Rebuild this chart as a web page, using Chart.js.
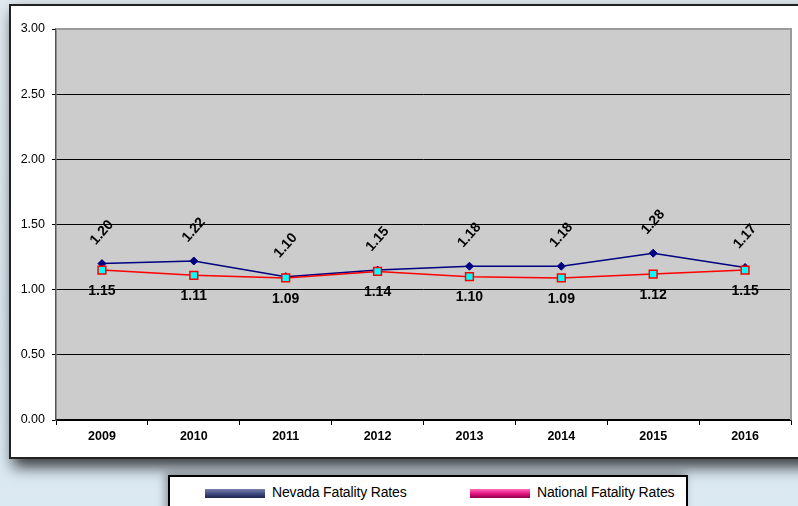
<!DOCTYPE html>
<html>
<head>
<meta charset="utf-8">
<script src="https://cdn.jsdelivr.net/npm/chart.js@4.4.1/dist/chart.umd.min.js"></script>
<style>
  html, body { margin: 0; padding: 0; }
  body {
    width: 798px; height: 506px; overflow: hidden; position: relative;
    background: linear-gradient(to bottom, #dfe9ef 0%, #d9e6ee 60%, #dbe9f3 100%);
    font-family: "Liberation Sans", Arial, sans-serif;
  }
  #panel {
    position: absolute; left: 9px; top: 4px; width: 800px; height: 451px;
    background: #fff; border: 2px solid #222;
    box-shadow: 4px 8px 14px rgba(0,0,0,0.75);
  }
  #chart { position: absolute; left: 0; top: 0; }
  #legend {
    position: absolute; left: 168px; top: 475px; width: 516px; height: 40px;
    background: #fff; border: 2px solid #000;
    box-shadow: -3px -2px 8px rgba(0,0,0,0.35);
    font-size: 14px; letter-spacing: -0.15px; color: #000;
  }
  .item { position: absolute; top: 7px; height: 16px; line-height: 16px; white-space: nowrap; }
  .sw { display: inline-block; width: 60px; height: 9px; vertical-align: -1px; margin-right: 7px; }
</style>
</head>
<body>
<div id="panel"></div>
<canvas id="chart" width="798" height="460"></canvas>
<div id="legend">
  <div class="item" style="left:35px"><span class="sw" style="background:linear-gradient(#7880b0,#3a4478 60%,#1e2450)"></span>Nevada Fatality Rates</div>
  <div class="item" style="left:300px"><span class="sw" style="background:linear-gradient(#ff6cb8,#e0107e 55%,#90004c)"></span>National Fatality Rates</div>
</div>
<script>
const years = ['2009', '2010', '2011', '2012', '2013', '2014', '2015', '2016'];
const nevadaRates = [1.20, 1.22, 1.10, 1.15, 1.18, 1.18, 1.28, 1.17];
const nationalRates = [1.15, 1.11, 1.09, 1.14, 1.10, 1.09, 1.12, 1.15];
const yTicks = [0, 0.5, 1, 1.5, 2, 2.5, 3];

// gray plot background + top/right border
const plotBg = {
    id: 'plotBg',
    beforeDraw(chart) {
        const a = chart.chartArea, c = chart.ctx;
        c.save();
        c.fillStyle = '#cbcccb';
        c.fillRect(a.left, a.top, a.right - a.left, a.bottom - a.top);
        c.restore();
    },
    afterDraw(chart) {
        const a = chart.chartArea, c = chart.ctx;
        c.save();
        c.strokeStyle = '#9a9a9a';
        c.lineWidth = 2;
        c.beginPath();
        c.moveTo(a.left, a.top);
        c.lineTo(a.right, a.top);
        c.lineTo(a.right, a.bottom);
        c.stroke();
        c.restore();
    }
};

// value labels
const valueLabels = {
    id: 'valueLabels',
    afterDatasetsDraw(chart) {
        const c = chart.ctx;
        c.save();
        c.fillStyle = '#000';
        c.font = 'bold 14px "Liberation Sans", Arial, sans-serif';
        c.textAlign = 'center';
        c.textBaseline = 'middle';
        chart.data.datasets.forEach((ds, i) => {
            const meta = chart.getDatasetMeta(i);
            meta.data.forEach((pt, j) => {
                const txt = ds.data[j].toFixed(2);
                if (ds.label === 'Nevada Fatality Rates') {
                    c.save();
                    c.translate(pt.x, pt.y - 31);
                    c.rotate(-0.85);
                    c.fillText(txt, 0, 0);
                    c.restore();
                } else {
                    c.fillText(txt, pt.x, pt.y + 21);
                }
            });
        });
        c.restore();
    }
};

new Chart(document.getElementById('chart'), {
    type: 'line',
    data: {
        labels: years,
        datasets: [{
            label: 'National Fatality Rates',
            data: nationalRates,
            borderColor: '#ff0000',
            borderWidth: 1.5,
            pointStyle: 'rect',
            pointRadius: 5.5,
            pointBorderWidth: 1.5,
            pointBorderColor: '#ff0000',
            pointBackgroundColor: '#00ffff',
            tension: 0
        }, {
            label: 'Nevada Fatality Rates',
            data: nevadaRates,
            borderColor: '#000080',
            borderWidth: 1.5,
            pointStyle: 'rectRot',
            pointRadius: 4,
            pointBorderWidth: 1,
            pointBorderColor: '#000080',
            pointBackgroundColor: '#000080',
            tension: 0
        }]
    },
    options: {
        responsive: false,
        animation: false,
        layout: { padding: { left: 0, top: 29, right: 3, bottom: 0 } },
        plugins: { legend: { display: false }, tooltip: { enabled: false } },
        scales: {
            x: {
                offset: true,
                grid: { display: true, drawOnChartArea: false, offset: true, tickLength: 5, color: '#000' },
                border: { color: '#000', width: 1.5 },
                ticks: { color: '#000', padding: 4, font: { size: 12.5, weight: 'bold', family: '"Liberation Sans", Arial' } },
                afterFit: s => { s.height = 40; }
            },
            y: {
                min: 0,
                max: 3,
                afterBuildTicks: s => { s.ticks = yTicks.map(v => ({ value: v })); },
                grid: {
                    color: ctx => (ctx.tick && ctx.tick.value === 3) ? 'rgba(0,0,0,0)' : '#000',
                    tickColor: '#000',
                    tickLength: 4,
                    lineWidth: 1
                },
                border: { color: '#555', width: 1.5 },
                ticks: {
                    color: '#000', padding: 7,
                    font: { size: 12.5, family: '"Liberation Sans", Arial' },
                    callback: v => Number(v).toFixed(2)
                },
                afterFit: s => { s.width = 56; }
            }
        }
    },
    plugins: [plotBg, valueLabels]
});
</script>
</body>
</html>
